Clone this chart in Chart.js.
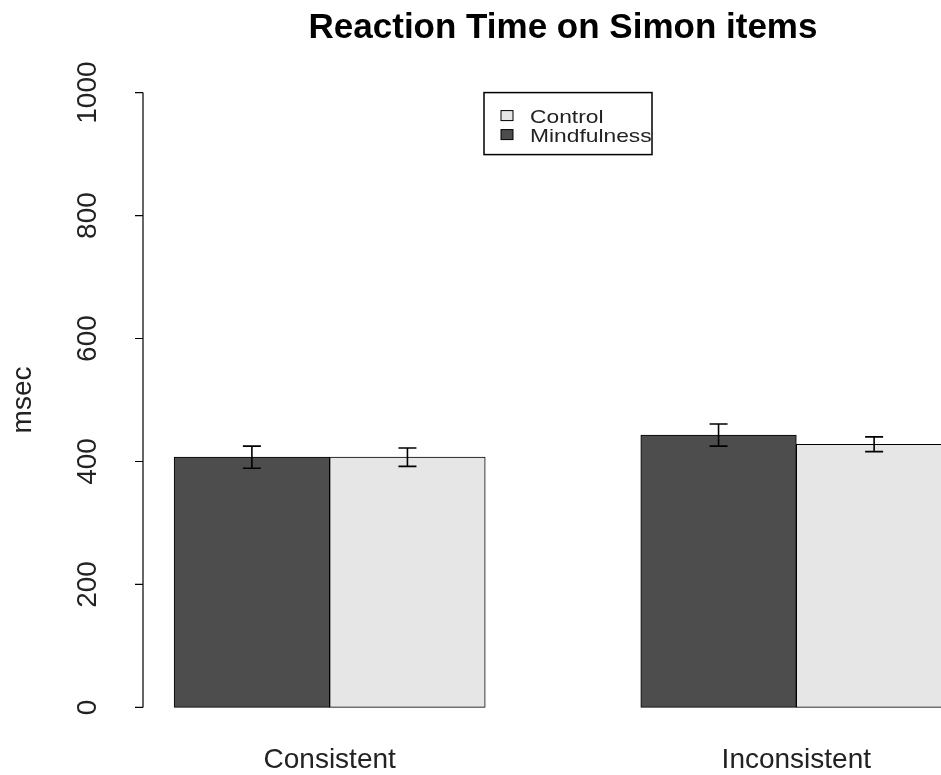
<!DOCTYPE html>
<html>
<head>
<meta charset="utf-8">
<title>Reaction Time on Simon items</title>
<script src="https://cdn.jsdelivr.net/npm/chart.js"></script>
<style>
  html, body { margin: 0; padding: 0; background: #fff; overflow: hidden; }
  #wrap { width: 941px; height: 775px; overflow: hidden; }
</style>
</head>
<body>
<div id="wrap"><canvas id="chart" width="1000" height="775"></canvas></div>
<script>
// ---------------------
// Data
// ---------------------
const categories = ['Consistent', 'Inconsistent'];
const seriesNames = ['Mindfulness', 'Control'];
const seriesColors = ['#4d4d4d', '#e6e6e6'];
const mindfulnessMean = [407, 443];
const controlMean = [407, 428];
const mindfulnessLow = [389, 425];
const mindfulnessHigh = [425, 461];
const controlLow = [392, 416];
const controlHigh = [422, 440];
const yTicks = [0, 200, 400, 600, 800, 1000];
const legendOrder = ['Control', 'Mindfulness'];

const means = [mindfulnessMean, controlMean];
const lows = [mindfulnessLow, controlLow];
const highs = [mindfulnessHigh, controlHigh];

// R barplot(beside=TRUE) layout: each group = 1 gap + 2 bars of width 1
const groupCenter = i => 2 + 3 * i;
const barX = (s, i) => groupCenter(i) + (s - 0.5);

const FONT = '"Liberation Sans", Arial, sans-serif';

const datasets = seriesNames.map((name, s) => ({
  label: name,
  data: means[s].map((v, i) => ({ x: barX(s, i), y: v })),
  backgroundColor: seriesColors[s],
  borderColor: '#000',
  borderWidth: 1,
  borderSkipped: false,
  grouped: false,
  barPercentage: 1,
  categoryPercentage: 1
}));

// legend text in the picture is wide and short
function wideText(ctx, txt, x, y, sx) {
  ctx.save();
  ctx.translate(x, y);
  ctx.scale(sx, 1);
  ctx.fillText(txt, 0, 0);
  ctx.restore();
}

// ---------------------
// R-style axes, error bars, legend and title
// ---------------------
const rStyle = {
  id: 'rStyle',
  afterDraw(chart) {
    const ctx = chart.ctx;
    const xs = chart.scales.x, ys = chart.scales.y;
    const area = chart.chartArea;
    ctx.save();
    ctx.strokeStyle = '#000';
    ctx.fillStyle = '#000';

    // error bars
    ctx.lineWidth = 1.6;
    seriesNames.forEach((name, s) => {
      categories.forEach((c, i) => {
        const px = xs.getPixelForValue(barX(s, i));
        const lo = ys.getPixelForValue(lows[s][i]);
        const hi = ys.getPixelForValue(highs[s][i]);
        ctx.beginPath();
        ctx.moveTo(px, lo); ctx.lineTo(px, hi);
        ctx.moveTo(px - 9, lo); ctx.lineTo(px + 9, lo);
        ctx.moveTo(px - 9, hi); ctx.lineTo(px + 9, hi);
        ctx.stroke();
      });
    });

    // y axis
    const ax = area.left;
    const y0 = ys.getPixelForValue(yTicks[0]);
    const y1 = ys.getPixelForValue(yTicks[yTicks.length - 1]);
    ctx.lineWidth = 1.2;
    ctx.beginPath();
    ctx.moveTo(ax, y0); ctx.lineTo(ax, y1);
    yTicks.forEach(t => {
      const py = ys.getPixelForValue(t);
      ctx.moveTo(ax, py); ctx.lineTo(ax - 8, py);
    });
    ctx.stroke();

    ctx.fillStyle = '#222';
    ctx.font = '28px ' + FONT;
    ctx.textAlign = 'center';
    ctx.textBaseline = 'middle';
    yTicks.forEach(t => {
      const py = ys.getPixelForValue(t);
      ctx.save();
      ctx.translate(ax - 55, py);
      ctx.rotate(-Math.PI / 2);
      ctx.fillText(String(t), 0, 0);
      ctx.restore();
    });

    // y title
    ctx.save();
    ctx.translate(23, (area.top + area.bottom) / 2);
    ctx.rotate(-Math.PI / 2);
    ctx.fillText('msec', 0, 0);
    ctx.restore();

    // category labels
    categories.forEach((c, i) => {
      ctx.fillText(c, xs.getPixelForValue(groupCenter(i)), 760);
    });

    // title
    ctx.fillStyle = '#000';
    ctx.font = 'bold 35px ' + FONT;
    ctx.fillText('Reaction Time on Simon items', (area.left + area.right) / 2, 28);

    // legend
    const lx = (area.left + area.right) / 2 - 79;
    const ly = ys.getPixelForValue(yTicks[yTicks.length - 1]);
    ctx.lineWidth = 1.5;
    ctx.strokeRect(lx, ly, 168, 62);
    ctx.font = '19px ' + FONT;
    ctx.textAlign = 'left';
    legendOrder.forEach((name, k) => {
      const ds = chart.data.datasets.find(d => d.label === name);
      const cy = ly + 24 + k * 19;
      ctx.fillStyle = ds.backgroundColor;
      ctx.fillRect(lx + 17, cy - 6, 12, 10);
      ctx.lineWidth = 1;
      ctx.strokeRect(lx + 17, cy - 6, 12, 10);
      ctx.fillStyle = '#222';
      wideText(ctx, name, lx + 46, cy + 1, 1.2);
    });

    ctx.restore();
  }
};

new Chart(document.getElementById('chart'), {
  type: 'bar',
  data: { datasets },
  options: {
    responsive: false,
    animation: false,
    layout: { padding: { left: 143, right: 17, top: 68, bottom: 43 } },
    plugins: { legend: { display: false }, title: { display: false }, tooltip: { enabled: false } },
    scales: {
      x: {
        type: 'linear', min: 0.8, max: 6.2, offset: false, display: false,
        afterBuildTicks: s => { s.ticks = categories.map((c, i) => ({ value: groupCenter(i) })); }
      },
      y: { min: -40, max: 1040, display: false }
    }
  },
  plugins: [rStyle]
});
</script>
</body>
</html>
